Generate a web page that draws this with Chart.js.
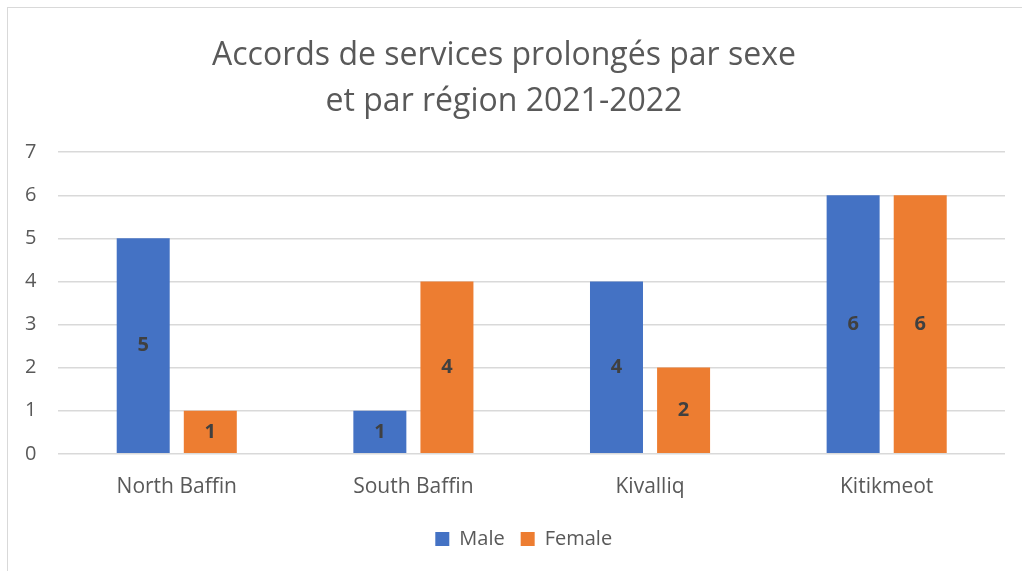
<!DOCTYPE html>
<html>
<head>
<meta charset="utf-8">
<script src="https://cdn.jsdelivr.net/npm/chart.js@4.4.1/dist/chart.umd.min.js"></script>
<style>
    html, body { margin: 0; padding: 0; background: #fff; }
    #wrap { position: relative; width: 1022px; height: 571px; overflow: hidden; }
    #frame {
        position: absolute; left: 7px; top: 7px; width: 1100px; height: 700px;
        border-left: 1px solid #d9d9d9; border-top: 1px solid #d9d9d9;
        pointer-events: none;
    }
    canvas { position: absolute; left: 0; top: 0; }
</style>
</head>
<body>
<div id="wrap">
    <canvas id="chart" width="1022" height="571"></canvas>
    <div id="frame"></div>
</div>
<script>
// Data
const regions = ['North Baffin', 'South Baffin', 'Kivalliq', 'Kitikmeot'];
const maleValues = [5, 1, 4, 6];
const femaleValues = [1, 4, 2, 6];
const titleLines = ['Accords de services prolongés par sexe', 'et par région 2021-2022'];

const FONT = "'Open Sans', 'Liberation Sans', sans-serif";
const TEXT = '#595959';

// simple value labels in the middle of each bar
const barLabels = {
    id: 'barLabels',
    afterDatasetsDraw(chart) {
        const ctx = chart.ctx;
        ctx.save();
        ctx.font = 'bold 20px ' + FONT;
        ctx.fillStyle = '#404040';
        ctx.textAlign = 'center';
        ctx.textBaseline = 'middle';
        chart.data.datasets.forEach((ds, i) => {
            chart.getDatasetMeta(i).data.forEach((bar, j) => {
                const mid = (bar.y + bar.base) / 2;
                ctx.fillText(ds.data[j], bar.x, mid);
            });
        });
        ctx.restore();
    }
};

// legend in the reference sits centred under the plot, not the canvas
const legendShift = {
    id: 'legendShift',
    afterLayout(chart) {
        const a = chart.chartArea;
        const dx = (a.left + a.right) / 2 - 8 - (chart.legend.left + chart.legend.right) / 2;
        chart.legend.left += dx;
        chart.legend.right += dx;
    }
};

new Chart(document.getElementById('chart'), {
    type: 'bar',
    data: {
        labels: regions,
        datasets: [
            { label: 'Male', data: maleValues, backgroundColor: '#4472C4' },
            { label: 'Female', data: femaleValues, backgroundColor: '#ED7D31' }
        ]
    },
    options: {
        responsive: false,
        animation: false,
        datasets: { bar: { categoryPercentage: 0.567, barPercentage: 0.79 } },
        layout: { padding: { left: 3, right: 17, top: 14, bottom: 12 } },
        scales: {
            x: {
                grid: { display: false },
                border: { display: false },
                ticks: { color: TEXT, font: { family: FONT, size: 21 }, padding: 13 }
            },
            y: {
                min: 0, max: 7,
                grid: { color: '#d9d9d9', lineWidth: 1.5, drawTicks: false },
                border: { display: false },
                ticks: { stepSize: 1, color: TEXT, font: { family: FONT, size: 20 }, padding: 22 }
            }
        },
        plugins: {
            title: {
                display: true,
                text: titleLines,
                color: TEXT,
                font: { family: FONT, size: 32, weight: 'normal', lineHeight: 1.44 },
                padding: { top: 19, bottom: 27 }
            },
            legend: {
                position: 'bottom',
                labels: {
                    color: TEXT, font: { family: FONT, size: 20 },
                    boxWidth: 14, boxHeight: 14, padding: 16
                }
            },
            tooltip: { enabled: false }
        }
    },
    plugins: [barLabels, legendShift]
});
</script>
</body>
</html>
